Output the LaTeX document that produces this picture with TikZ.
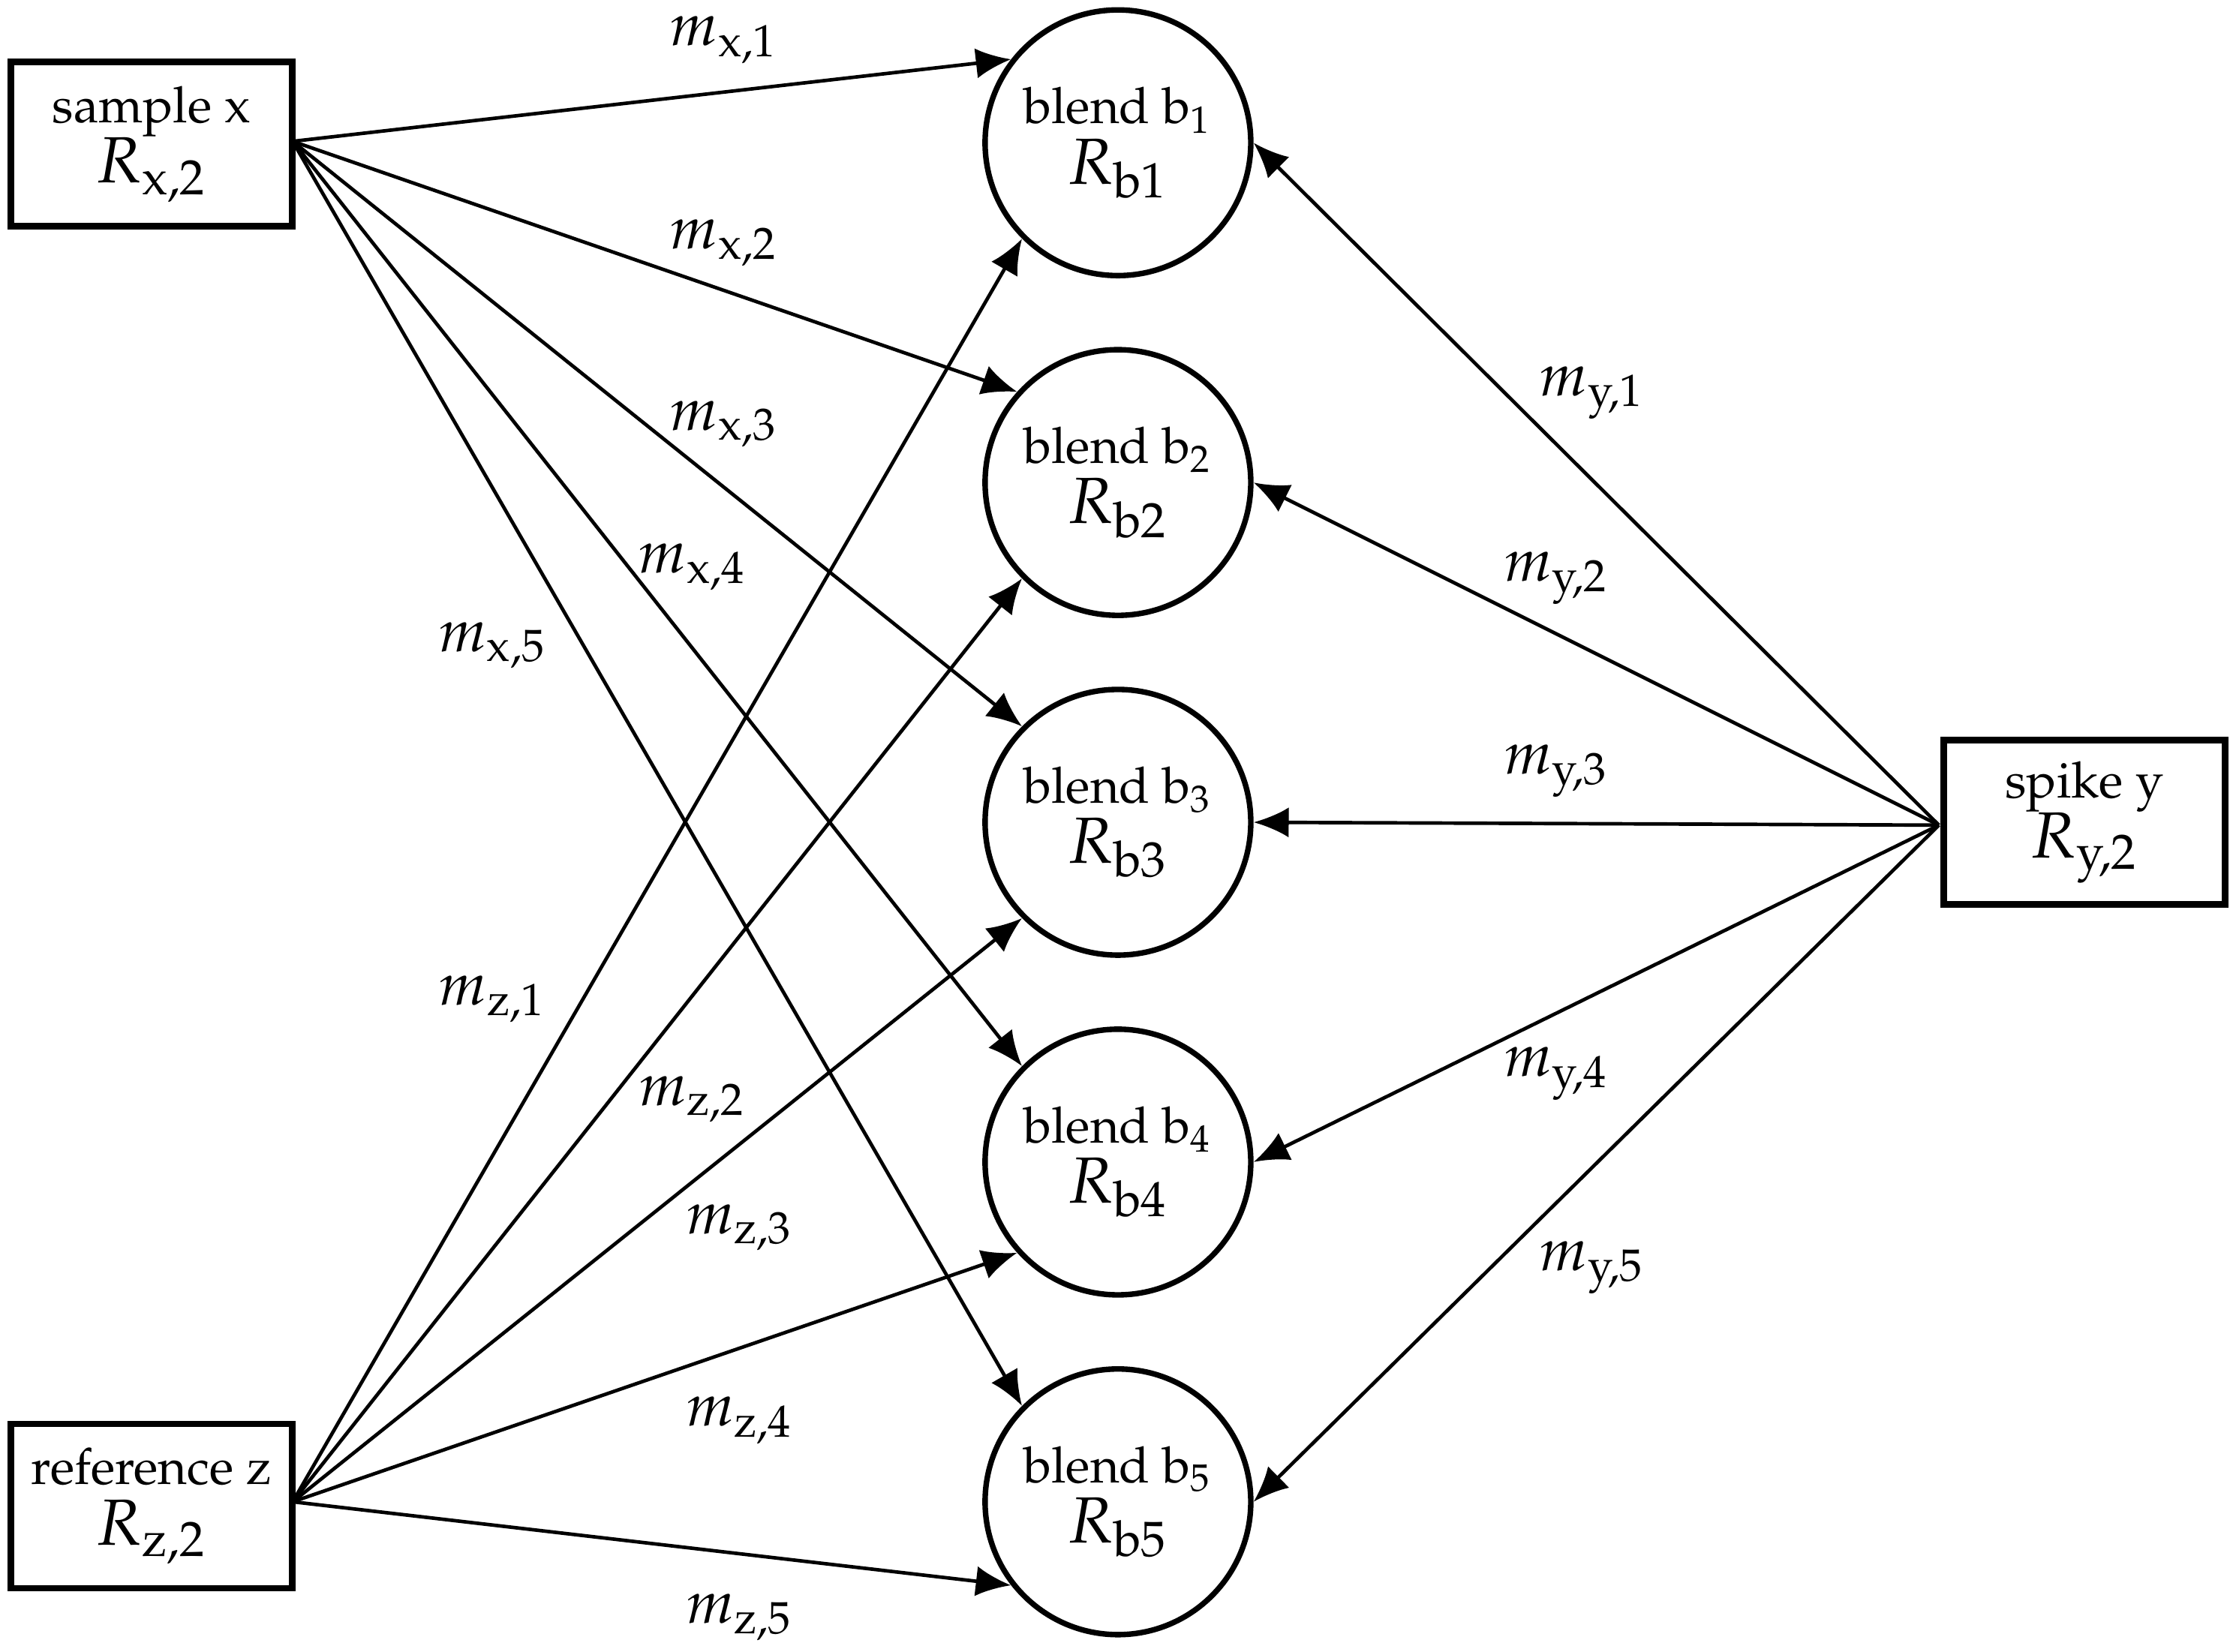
\documentclass[tikz,border=0pt]{standalone}
\usepackage[T1]{fontenc}
\usepackage{mathpazo}
\usetikzlibrary{arrows.meta}
\begin{document}
\begin{tikzpicture}[x=0.01cm,y=-0.01cm,
  box/.style={draw,line width=1.3pt,minimum width=1.97cm,minimum height=1.15cm,align=center,inner sep=0pt,font=\fontsize{10}{14}\selectfont},
  bl/.style={draw,circle,line width=1.1pt,minimum size=1.86cm,align=center,inner sep=0pt,font=\fontsize{10}{14}\selectfont},
  ed/.style={line width=0.7pt,-{Latex[length=7pt,width=6pt]}},
  lb/.style={font=\fontsize{12}{14}\selectfont}]
\useasboundingbox (0,0) rectangle (1564,1157);
\node[box] (x) at (106,101) {sample x\\[-2pt]{\fontsize{13}{15}\selectfont$R_{\mathrm{x,2}}$}};
\node[box] (z) at (106,1055) {reference z\\[-2pt]{\fontsize{13}{15}\selectfont$R_{\mathrm{z,2}}$}};
\node[box] (y) at (1460,576) {spike y\\[-2pt]{\fontsize{13}{15}\selectfont$R_{\mathrm{y,2}}$}};
\foreach \i/\yy in {1/100,2/338,3/576,4/814,5/1052}{
  \node[bl] (b\i) at (783,\yy) {blend b$_{\i}$\\[-2pt]{\fontsize{13}{15}\selectfont$R_{\mathrm{b\i}}$}};
}
\coordinate (xs) at (205,99);
\coordinate (zs) at (205,1052);
\coordinate (ys) at (1358,578);
\draw[ed] (xs) -- (b1.142);
\draw[ed] (xs) -- (b2.138);
\draw[ed] (xs) -- (b3.135);
\draw[ed] (xs) -- (b4.135);
\draw[ed] (xs) -- (b5.135);
\draw[ed] (zs) -- (b1.225);
\draw[ed] (zs) -- (b2.225);
\draw[ed] (zs) -- (b3.225);
\draw[ed] (zs) -- (b4.222);
\draw[ed] (zs) -- (b5.218);
\foreach \i in {1,...,5}{
  \draw[ed] (ys) -- (b\i.east);
}
\node[lb] at (507,28) {$m_{\mathrm{x,1}}$};
\node[lb] at (507,170) {$m_{\mathrm{x,2}}$};
\node[lb] at (507,297) {$m_{\mathrm{x,3}}$};
\node[lb] at (485,397) {$m_{\mathrm{x,4}}$};
\node[lb] at (345,452) {$m_{\mathrm{x,5}}$};
\node[lb] at (345,700) {$m_{\mathrm{z,1}}$};
\node[lb] at (485,770) {$m_{\mathrm{z,2}}$};
\node[lb] at (518,860) {$m_{\mathrm{z,3}}$};
\node[lb] at (518,995) {$m_{\mathrm{z,4}}$};
\node[lb] at (518,1133) {$m_{\mathrm{z,5}}$};
\node[lb] at (1115,275) {$m_{\mathrm{y,1}}$};
\node[lb] at (1090,405) {$m_{\mathrm{y,2}}$};
\node[lb] at (1090,540) {$m_{\mathrm{y,3}}$};
\node[lb] at (1090,752) {$m_{\mathrm{y,4}}$};
\node[lb] at (1115,888) {$m_{\mathrm{y,5}}$};
\end{tikzpicture}
\end{document}
